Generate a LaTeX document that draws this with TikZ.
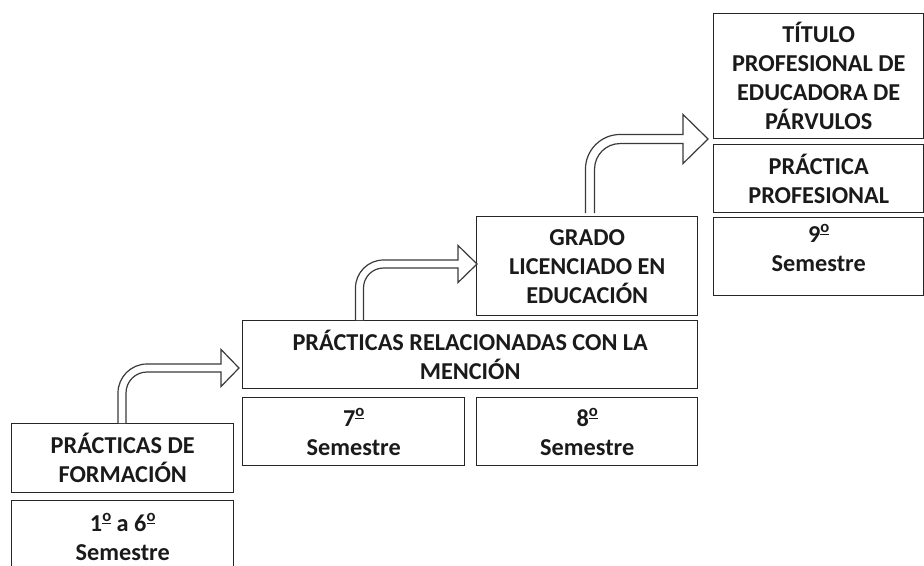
\documentclass[tikz,border=0pt]{standalone}
\usepackage{fontspec}
\setmainfont{Carlito}
\usetikzlibrary{calc}
\definecolor{boxline}{HTML}{262626}
\definecolor{arrline}{HTML}{3A3A3A}
\definecolor{txt}{HTML}{1A1A1A}
\newcommand\ordm{\raisebox{0.42em}{\fontsize{12.5}{12.5}\selectfont\underline{o}}}
\tikzset{
  box/.style={draw=boxline, line width=1.1pt, rectangle, anchor=north west,
    inner sep=0pt, align=center, text=txt,
    font=\fontsize{18.2}{21.75}\selectfont\bfseries},
  arrowline/.style={draw=arrline, line width=0.9pt, fill=white, line join=miter}
}
% #1 start (stem centre at base), #2 tip, #3 half shaft width, #4 head length, #5 head half height, #6 outer radius
\newcommand\bentarrow[6]{%
  \draw[arrowline] let \p1=(#1), \p2=(#2) in
    (\x1-#3,\y1) -- (\x1-#3,\y2+#3-#6)
    arc[start angle=180,end angle=90,radius=#6]
    -- (\x2-#4,\y2+#3) -- (\x2-#4,\y2+#5) -- (\x2,\y2)
    -- (\x2-#4,\y2-#5) -- (\x2-#4,\y2-#3)
    -- (\x1+#6-#3,\y2-#3)
    arc[start angle=90,end angle=180,radius=#6-2*#3]
    -- (\x1+#3,\y1);}
\begin{document}
\begin{tikzpicture}[x=0.75pt,y=0.75pt]
\useasboundingbox (0,0) rectangle (924,-565);
\clip (0,0) rectangle (924,-565);
% boxes
\node[box, minimum width=166.5pt, minimum height=51.75pt] (f1) at (11,-423) {PRÁCTICAS DE\\FORMACIÓN};
\node[box, minimum width=166.5pt, minimum height=54pt] (f2) at (11,-500) {1\ordm{} a 6\ordm\\Semestre};
\node[box, minimum width=341.25pt, minimum height=51pt] (r1) at (242,-320) {PRÁCTICAS RELACIONADAS CON LA\\MENCIÓN};
\node[box, minimum width=166.5pt, minimum height=51pt] (s7) at (242,-397) {7\ordm\\Semestre};
\node[box, minimum width=165.75pt, minimum height=51pt] (s8) at (476,-397) {8\ordm\\Semestre};
\node[box, minimum width=165.75pt, minimum height=74.25pt] (g1) at (476,-216) {GRADO\\LICENCIADO EN\\EDUCACIÓN};
\node[box, minimum width=157.5pt, minimum height=93.75pt] (t1) at (713,-13) {TÍTULO\\PROFESIONAL DE\\EDUCADORA DE\\PÁRVULOS};
\node[box, minimum width=157.5pt, minimum height=51pt] (t2) at (713,-144) {PRÁCTICA\\PROFESIONAL};
\node[box, minimum width=157.5pt, minimum height=58.5pt] (t3) at (713,-217) {};
\node[box, draw=none, anchor=center] (t3txt) at ($(t3.center)+(0,9)$) {9\ordm\\Semestre};
% arrows
\bentarrow{$(f1.north west)+(111,0)$}{$(r1.north west)+(-3,-48)$}{3pt}{13.5pt}{13.9pt}{21.75pt}
\bentarrow{$(r1.north west)+(117.5,0)$}{$(g1.north west)+(1,-48)$}{3pt}{14.25pt}{13.9pt}{21pt}
\bentarrow{$(g1.north west)+(114,3)$}{$(t2.north west)+(-5,5)$}{3.4pt}{18.75pt}{18.4pt}{26pt}
\end{tikzpicture}
\end{document}
